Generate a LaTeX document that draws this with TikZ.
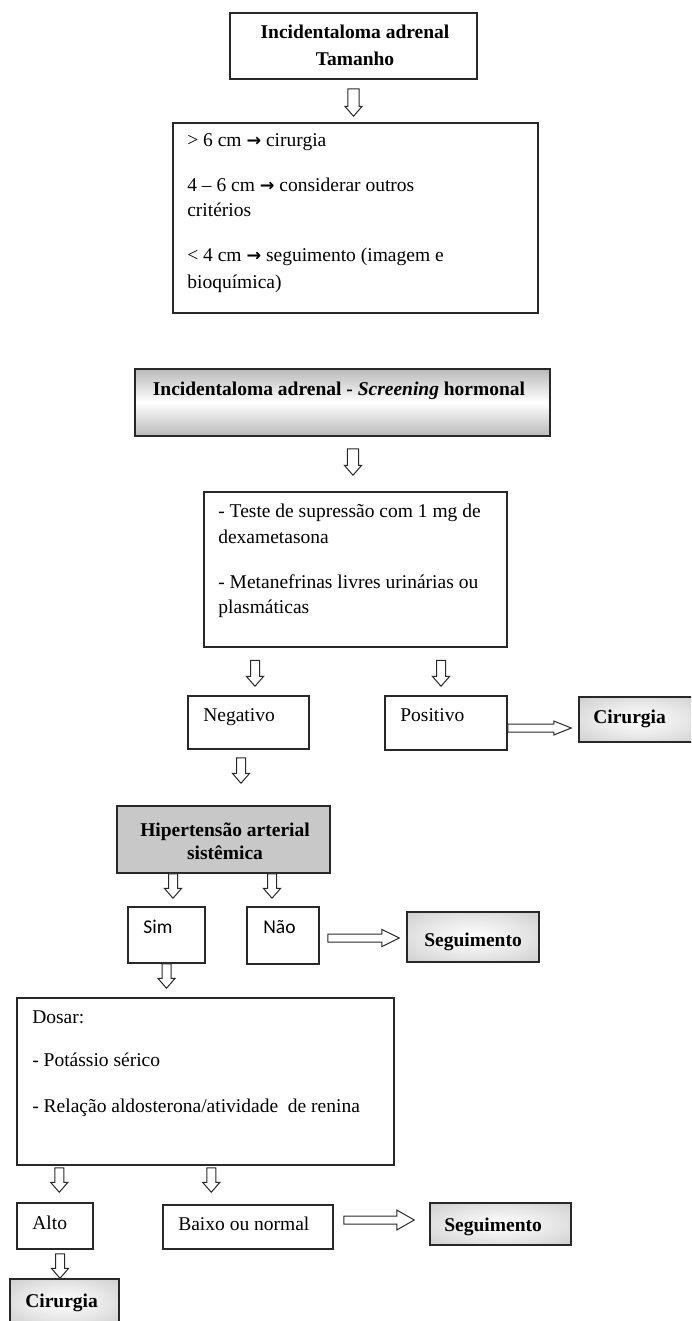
\documentclass[tikz,border=0pt]{standalone}
\usepackage{fontspec}
\setmainfont{Liberation Serif}
\newfontfamily\calibrifont{Carlito}
\newfontfamily\arrowfont{DejaVu Sans}
\usepackage{tikz}
\definecolor{framegray}{RGB}{40,40,40}
\definecolor{boxgray}{RGB}{200,200,200}
\definecolor{shadegray}{RGB}{185,185,185}
\usetikzlibrary{
  arrows.meta,
  calc,
  fit
}
\pgfdeclareradialshading{boxglow}{\pgfpoint{0bp}{0bp}}{%
  color(0bp)=(white); color(20bp)=(white!90!black); color(50bp)=(shadegray); color(75bp)=(shadegray)}
\newcommand{\rarr}{{\arrowfont\bfseries\fontsize{10.5pt}{15pt}\selectfont →}}
\tikzset{
  box/.style={draw=framegray, line width=0.9pt, inner sep=0pt, fill=white},
  txt/.style={inner sep=0pt, font=\fontsize{11.7pt}{15pt}\selectfont},
  boldtxt/.style={inner sep=0pt, font=\fontsize{11.7pt}{15pt}\selectfont\bfseries},
  hollowdown/.style={draw=framegray, fill=white, line width=0.6pt,
    to path={let \p1=(\tikztostart), \p2=(\tikztotarget) in
      (\x1-#1,\y1) -- (\x1+#1,\y1) -- (\x1+#1,\y2+6pt) -- (\x1+5.2pt,\y2+6pt)
      -- (\x1,\y2) -- (\x1-5.2pt,\y2+6pt) -- (\x1-#1,\y2+6pt) -- cycle}},
  hollowdown/.default=2.7pt,
  hollowright/.style={draw=framegray, fill=white, line width=0.6pt,
    to path={let \p1=(\tikztostart), \p2=(\tikztotarget) in
      (\x1,\y1+2.4pt) -- (\x2-10.5pt,\y1+2.4pt) -- (\x2-10.5pt,\y1+#1)
      -- (\x2,\y1) -- (\x2-10.5pt,\y1-#1) -- (\x2-10.5pt,\y1-2.4pt) -- (\x1,\y1-2.4pt) -- cycle}},
  hollowright/.default=6pt
}

\begin{document}
\begin{tikzpicture}[x=0.6pt, y=-0.6pt]
  \useasboundingbox (0,0) rectangle (691,1321);
  \clip (0,0) rectangle (691,1321);

  % Tamanho
  \node[box, fit={(230,13) (477,79)}] (tam) {};
  \node[boldtxt, anchor=base] (tamt1) at (355,38) {Incidentaloma adrenal};
  \node[boldtxt, anchor=base] (tamt2) at (355,65) {Tamanho};

  \node[box, fit={(173,123) (538,313)}] (crit) {};
  \node[txt, anchor=base west] (crit1) at (187,146) {> 6 cm \rarr{} cirurgia};
  \node[txt, anchor=base west] (crit2) at (187,191) {4 – 6 cm \rarr{} considerar outros};
  \node[txt, anchor=base west] (crit3) at (187,216) {critérios};
  \node[txt, anchor=base west] (crit4) at (187,261) {< 4 cm \rarr{} seguimento (imagem e};
  \node[txt, anchor=base west] (crit5) at (187,288) {bioquímica)};

  \draw[hollowdown=3.4pt] ($(tam.south)+(0,9)$) to ($(crit.north)+(0,-6)$);

  % Screening hormonal
  \node[box, top color=shadegray, bottom color=shadegray, middle color=white,
        fit={(135,369) (550,436)}] (scr) {};
  \node[boldtxt, anchor=base] (scrt) at (339,395) {Incidentaloma adrenal - \textit{Screening} hormonal};

  \node[box, fit={(204,492) (507,647)}] (test) {};
  \node[txt, anchor=base west] (test1) at (218,517) {- Teste de supressão com 1 mg de};
  \node[txt, anchor=base west] (test2) at (218,543) {dexametasona};
  \node[txt, anchor=base west] (test3) at (218,588) {- Metanefrinas livres urinárias ou};
  \node[txt, anchor=base west] (test4) at (218,613) {plasmáticas};

  \draw[hollowdown=3.4pt] ($(scr.south)+(10.5,12)$) to ($(test.north)+(0,-16)$);

  % Negativo / Positivo
  \node[box, fit={(188,696) (309,749)}] (neg) {};
  \node[txt, anchor=base west] (negt) at (203,721) {Negativo};
  \node[box, fit={(385,696) (507,750)}] (pos) {};
  \node[txt, anchor=base west] (post) at (400,721) {Positivo};
  \node[box, shade, shading=boxglow, fit={(579,697) (700,742)}] (cir1) {};
  \node[boldtxt, anchor=base west] (cir1t) at (593,723) {Cirurgia};

  \draw[hollowdown] ($(neg.north)+(6.5,-35)$) to ($(neg.north)+(0,-9)$);
  \draw[hollowdown] ($(pos.north)+(-5,-35)$) to ($(pos.north)+(0,-9)$);
  \draw[hollowright=4.2pt] ($(pos.east)+(0,5)$) to ($(cir1.west)+(-7,0)$);

  % Hipertensao
  \node[box, fill=boxgray, fit={(117,806) (330,873)}] (has) {};
  \node[boldtxt, anchor=base] (hast1) at (225,836) {Hipertensão arterial};
  \node[boldtxt, anchor=base] (hast2) at (225,859) {sistêmica};

  \draw[hollowdown] ($(neg.south)+(-7.5,8)$) to ($(has.north)+(0,-22)$);

  \node[box, fit={(128,907) (205,963)}] (sim) {};
  \node[txt, anchor=base west] (simt) at (143,933) {\calibrifont Sim};
  \node[box, fit={(247,907) (319,964)}] (nao) {};
  \node[txt, anchor=base west] (naot) at (263,933) {\calibrifont Não};
  \node[box, shade, shading=boxglow, fit={(407,912) (539,962)}] (seg1) {};
  \node[boldtxt, anchor=base] (seg1t) at (473,946) {Seguimento};

  \draw[hollowdown] ($(has.south)+(-50.5,0)$) to ($(sim.north)+(0,-8)$);
  \draw[hollowdown] ($(has.south)+(48.5,0)$) to ($(nao.north)+(0,-8)$);
  \draw[hollowright=5.2pt] ($(nao.east)+(8,2.5)$) to ($(seg1.west)+(-7,0)$);

  % Dosar
  \node[box, fit={(17,998) (394,1165)}] (dosar) {};
  \node[txt, anchor=base west] (dosar1) at (32,1023) {Dosar:};
  \node[txt, anchor=base west] (dosar2) at (32,1066) {- Potássio sérico};
  \node[txt, anchor=base west] (dosar3) at (32,1112) {- Relação aldosterona/atividade~ de renina};

  \draw[hollowdown] (sim.south) to ($(dosar.north)+(0,-9)$);

  % Alto / Baixo
  \node[box, fit={(17,1203) (93,1249)}] (alto) {};
  \node[txt, anchor=base west] (altot) at (32,1229) {Alto};
  \node[box, fit={(163,1205) (333,1249)}] (baixo) {};
  \node[txt, anchor=base west] (baixot) at (178,1230) {Baixo ou normal};
  \node[box, shade, shading=boxglow, fit={(430,1203) (571,1245)}] (seg2) {};
  \node[boldtxt, anchor=base west] (seg2t) at (444,1231) {Seguimento};
  \node[box, shade, shading=boxglow, fit={(10,1279) (119,1325)}] (cir2) {};
  \node[boldtxt, anchor=base west] (cir2t) at (25,1307) {Cirurgia};

  \draw[hollowdown] ($(dosar.south west)+(43,2)$) to ($(alto.north)+(0,-10)$);
  \draw[hollowdown] ($(dosar.south west)+(195,2)$) to ($(baixo.north)+(0,-12)$);
  \draw[hollowright] ($(baixo.east)+(10,-7)$) to ($(seg2.west)+(-15,0)$);
  \draw[hollowdown] ($(alto.south)+(5,4)$) to (cir2.north);
\end{tikzpicture}
\end{document}
